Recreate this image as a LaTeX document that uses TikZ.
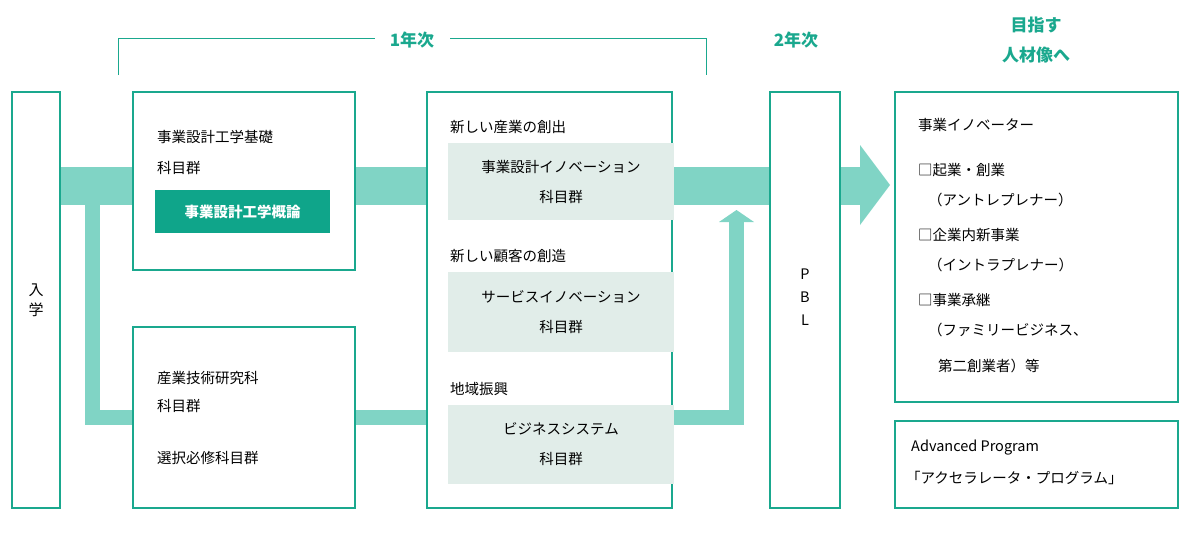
\documentclass[tikz,border=0pt]{standalone}
\usepackage{fontspec}
\setmainfont{Noto Sans CJK JP}
\usetikzlibrary{positioning}
\definecolor{penColor}{HTML}{1AA88E}
\definecolor{bandColor}{HTML}{80D4C5}
\definecolor{greyColor}{HTML}{E1EDE9}
\definecolor{darkGreen}{HTML}{0FA58A}
\tikzset{
  box/.style={draw=penColor,line width=1.3pt,fill=white,inner sep=0pt},
  inbox/.style={fill=greyColor,inner sep=0pt,align=center,font=\fontsize{14.5}{30}\selectfont},
  txt/.style={anchor=west,inner sep=0pt,font=\fontsize{14.5}{17}\selectfont},
  head/.style={text=penColor,font=\bfseries\fontsize{17}{30}\selectfont,align=center,inner sep=0pt}
}
\begin{document}
\begin{tikzpicture}[x=1pt,y=-1pt]
\useasboundingbox (0,0) rectangle (1200,547);
% bands
\fill[bandColor] (60,167) rectangle (860,205);
\fill[bandColor] (860,145) -- (890,185) -- (860,225) -- cycle;
\fill[bandColor] (85,205) rectangle (100,425);
\fill[bandColor] (85,410) rectangle (729,425);
\fill[bandColor] (729,425) rectangle (744,222);
\fill[bandColor] (719,222) -- (736.5,210) -- (754,222) -- cycle;
% boxes
\node[box,minimum width=48,minimum height=416] (entry) at (36,300) {};
\node[font=\fontsize{15}{20}\selectfont,align=center] at (entry) {入\\学};
\node[box,minimum width=222,minimum height=178] (basic) at (244,181) {};
\node[box,minimum width=222,minimum height=181] (tech) at (244,417.5) {};
\node[box,minimum width=245,minimum height=416] (mid) at (549.5,300) {};
\node[box,minimum width=70,minimum height=416] (pbl) at (805,300) {};
\node[box,minimum width=283,minimum height=310] (goal) at (1036.5,247) {};
\node[box,minimum width=283,minimum height=87] (adv) at (1036.5,464.5) {};
% box texts
\node[txt] at (157,137) {事業設計工学基礎};
\node[txt] at (157,168) {科目群};
\node[fill=darkGreen,text=white,minimum width=175,minimum height=43,inner sep=0pt,
  font=\bfseries\fontsize{14.5}{17}\selectfont] (intro) at (242.5,211.5) {事業設計工学概論};
\node[txt] at (157,378) {産業技術研究科};
\node[txt] at (157,406) {科目群};
\node[txt] at (157,458) {選択必修科目群};
\node[txt] at (450,127) {新しい産業の創出};
\node[txt] at (450,256) {新しい顧客の創造};
\node[txt] at (450,389) {地域振興};
\node[inbox,minimum width=226,minimum height=77] (inno) at (561,181.5) {事業設計イノベーション\\科目群};
\node[inbox,minimum width=226,minimum height=80] (serv) at (561,312) {サービスイノベーション\\科目群};
\node[inbox,minimum width=226,minimum height=79] (bsys) at (561,444.5) {ビジネスシステム\\科目群};
\node[font=\fontsize{14.5}{23}\selectfont,align=center] at (805,297) {P\\B\\L};
\node[txt] at (918,125) {事業イノベーター};
\node[txt] at (918,170) {□起業・創業};
\node[txt] at (928,200) {（アントレプレナー）};
\node[txt] at (918,235) {□企業内新事業};
\node[txt] at (928,265) {（イントラプレナー）};
\node[txt] at (918,300) {□事業承継};
\node[txt] at (928,330) {（ファミリービジネス、};
\node[txt] at (938,366) {第二創業者）等};
\node[txt] at (911,448) {Advanced Program};
\node[txt] at (906,478) {「アクセラレータ・プログラム」};
% headings
\draw[penColor,line width=1pt] (118,75) -- (118,38) -- (375,38);
\draw[penColor,line width=1pt] (450,38) -- (706,38) -- (706,75);
\node[head] (year1) at (412,40) {1年次};
\node[head] (year2) at (796,40) {2年次};
\node[head] (target) at (1036,40) {目指す\\人材像へ};
\end{tikzpicture}
\end{document}
